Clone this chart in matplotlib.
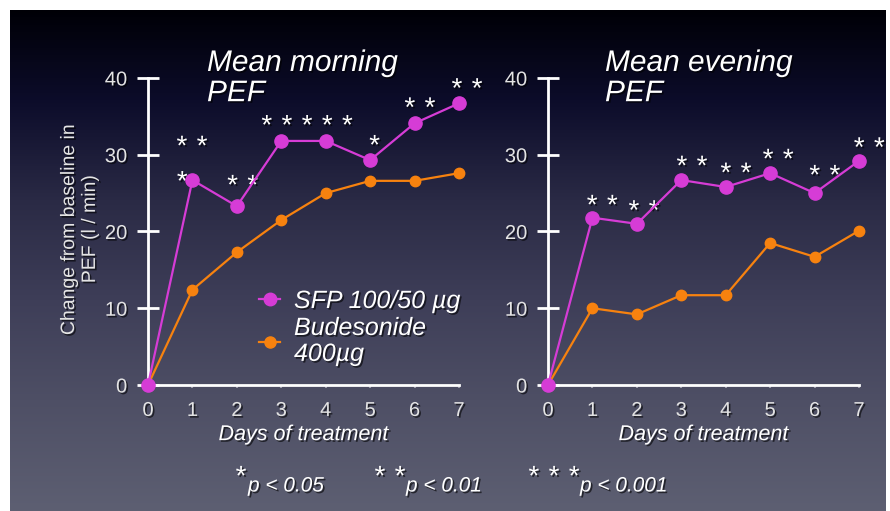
import numpy as np
import matplotlib
matplotlib.use("Agg")
import matplotlib.pyplot as plt
import matplotlib.patheffects as pe
from matplotlib.colors import LinearSegmentedColormap
from matplotlib.lines import Line2D

# ---- data ----
days = [0, 1, 2, 3, 4, 5, 6, 7]
morning_sfp = [0, 26.7, 23.3, 31.8, 31.8, 29.3, 34.1, 36.7]
morning_bud = [0, 12.4, 17.3, 21.5, 25.0, 26.6, 26.6, 27.6]
evening_sfp = [0, 21.8, 21.0, 26.7, 25.8, 27.6, 25.0, 29.2]
evening_bud = [0, 10.0, 9.2, 11.7, 11.7, 18.5, 16.7, 20.1]

# significance marks: (x centre, y, number of asterisks)
morning_stars = [(0.99, 30.9, 2), (0.77, 26.3, 1), (2.13, 25.8, 2),
                 (3.58, 33.6, 5), (5.10, 31.0, 1),
                 (6.12, 35.9, 2), (7.18, 38.4, 2)]
evening_stars = [(1.22, 23.2, 2), (2.16, 22.5, 2), (3.24, 28.3, 2),
                 (4.23, 27.4, 2), (5.18, 29.2, 2), (6.23, 27.1, 2),
                 (7.23, 30.7, 2)]

yticks = [0, 10, 20, 30, 40]
titles = ["Mean morning\nPEF", "Mean evening\nPEF"]
series_labels = ["SFP 100/50 µg", "Budesonide\n400µg"]
ylabel = "Change from baseline in\nPEF (l / min)"
xlabel = "Days of treatment"
foot_nstars = [1, 2, 3]
foot_p = ["p < 0.05", "p < 0.01", "p < 0.001"]

MAG = "#d63cd6"
ORA = "#f7820f"
FONT = "Liberation Sans"
STAR_GAP = 14.5  # points between neighbouring asterisks
shadow = [pe.withSimplePatchShadow(offset=(1.2, -1.2), shadow_rgbFace="black", alpha=0.6)]

W, H = 890, 511
fig = plt.figure(figsize=(W / 100, H / 100), dpi=100)
fig.patch.set_facecolor("white")

# background gradient
bg = fig.add_axes([10 / W, 0, (886 - 10) / W, (H - 10) / H])
cmap = LinearSegmentedColormap.from_list(
    "bg", [(0.0, "#000006"), (0.18, "#0c0c2a"), (0.38, "#2a2a45"),
           (0.58, "#3e3e58"), (0.78, "#4e4f65"), (1.0, "#5d5f72")])
grad = np.linspace(0, 1, 256).reshape(-1, 1)
bg.imshow(grad, aspect="auto", cmap=cmap, extent=[0, 1, 1, 0])
bg.set_axis_off()


def px_axes(x0, x1, y0=385, y1=78):
    return fig.add_axes([x0 / W, (H - y0) / H, (x1 - x0) / W, (y0 - y1) / H])


def star_row(ax, x, y, n, xycoords="data", size=20):
    offs = (np.arange(n) - (n - 1) / 2) * STAR_GAP
    for o in offs:
        ax.annotate("*", (x, y), xycoords=xycoords, xytext=(o, 0), textcoords="offset points",
                    color="white", fontsize=size, ha="center", va="center",
                    family=FONT, path_effects=shadow, annotation_clip=False)


axes = [px_axes(148, 459), px_axes(548, 859)]
data = [(morning_sfp, morning_bud, morning_stars), (evening_sfp, evening_bud, evening_stars)]

for i, (ax, (sfp, bud, stars)) in enumerate(zip(axes, data)):
    ax.set_facecolor("none")
    ax.set_xlim(0, 7)
    ax.set_ylim(0, 40)
    for s in ["top", "right"]:
        ax.spines[s].set_visible(False)
    for s in ["left", "bottom"]:
        ax.spines[s].set_color("white")
        ax.spines[s].set_linewidth(2.0)
    ax.set_yticks(yticks)
    ax.set_xticks(days)
    ax.tick_params(axis="y", direction="inout", length=16, width=2.0, color="white",
                   labelcolor="#e4e4e4", labelsize=14.5, pad=7)
    ax.tick_params(axis="x", direction="out", length=2.5, width=1.5, color="#9a9aa8",
                   labelcolor="#e4e4e4", labelsize=14.5, pad=9)
    for lab in ax.get_xticklabels() + ax.get_yticklabels():
        lab.set_fontfamily(FONT)
        lab.set_path_effects(shadow)

    ax.plot(days, bud, color=ORA, lw=1.6, marker="o", ms=7.5, clip_on=False, zorder=3)
    ax.plot(days, sfp, color=MAG, lw=1.6, marker="o", ms=9.5, clip_on=False, zorder=4)

    for (sx, sy, n) in stars:
        star_row(ax, sx, sy, n)

    ax.set_xlabel(xlabel, fontsize=15.5, style="italic", color="white", family=FONT,
                  labelpad=3, path_effects=shadow)

# titles
fig.text(207 / W, 1 - 49 / H, titles[0], fontsize=21.5, style="italic", color="white",
         family=FONT, va="top", ha="left", linespacing=1.1, path_effects=shadow)
fig.text(605 / W, 1 - 49 / H, titles[1], fontsize=21.5, style="italic", color="white",
         family=FONT, va="top", ha="left", linespacing=1.1, path_effects=shadow)

# y label
fig.text(80 / W, 1 - 229 / H, ylabel, rotation=90, fontsize=14, color="#e4e4e4",
         family=FONT, ha="center", va="center", linespacing=1.3, path_effects=shadow)

# legend
handles = [Line2D([], [], color=MAG, lw=1.6, marker="o", ms=9),
           Line2D([], [], color=ORA, lw=1.6, marker="o", ms=8)]
leg = axes[0].legend(handles, series_labels, loc="upper left",
                     bbox_to_anchor=((259 - 148) / (459 - 148), (385 - 289) / (385 - 78)),
                     frameon=False, handlelength=0.85, handletextpad=0.55, labelspacing=0.12,
                     borderaxespad=0, borderpad=0,
                     prop={"family": FONT, "style": "italic", "size": 18})
for t in leg.get_texts():
    t.set_color("white")
    t.set_linespacing(1.1)
    t.set_path_effects(shadow)

# footnotes
foot_star_cx = [241, 390, 554]
foot_p_x = [248, 406, 580]
for sx, n, px, pt in zip(foot_star_cx, foot_nstars, foot_p_x, foot_p):
    star_row(bg, sx / W, 1 - 478 / H, n, xycoords="figure fraction")
    fig.text(px / W, 1 - 486 / H, pt, fontsize=15, style="italic", color="white",
             family=FONT, ha="left", va="center", path_effects=shadow)

fig.savefig("out.png", dpi=100)
